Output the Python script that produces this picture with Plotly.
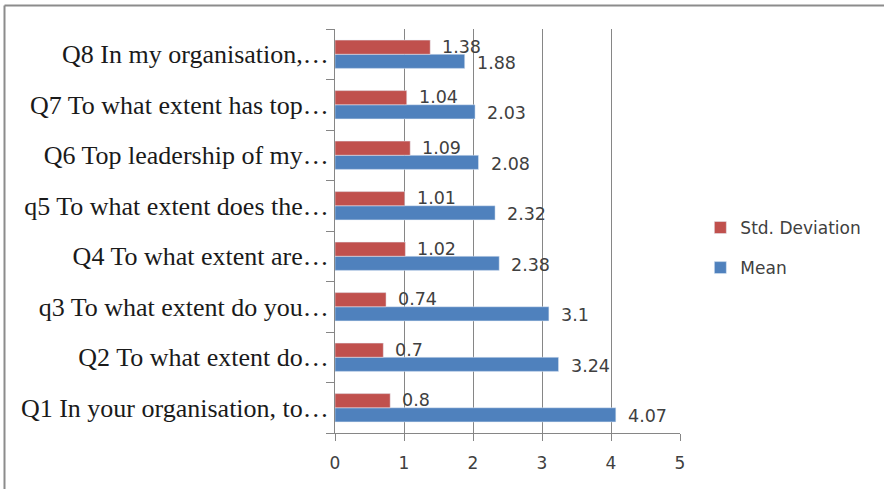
import plotly.graph_objects as go

categories = [
    "Q1 In your organisation, to…",
    "Q2 To what extent do…",
    "q3 To what extent do you…",
    "Q4 To what extent are…",
    "q5 To what extent does the…",
    "Q6 Top leadership of my…",
    "Q7 To what extent has top…",
    "Q8 In my organisation,…",
]
mean_vals = [4.07, 3.24, 3.1, 2.38, 2.32, 2.08, 2.03, 1.88]
std_vals = [0.8, 0.7, 0.74, 1.02, 1.01, 1.09, 1.04, 1.38]
x_ticks = [0, 1, 2, 3, 4, 5]

MEAN_COLOR = "#4F81BD"
STD_COLOR = "#C0504D"
GRID = "#868686"
SANS = "DejaVu Sans"
SERIF = "Liberation Serif"

idx = list(range(len(categories)))
BW = 0.28

fig = go.Figure()
fig.add_trace(go.Bar(
    name="Mean", y=idx, x=mean_vals, orientation="h",
    marker_color=MEAN_COLOR, width=BW, offset=-BW,
    legendgroup="m", legendrank=2,
))
fig.add_trace(go.Bar(
    name="Std. Deviation", y=idx, x=std_vals, orientation="h",
    marker_color=STD_COLOR, width=BW, offset=0,
    legendgroup="s", legendrank=1,
))

annotations = []
for i, (m, s) in enumerate(zip(mean_vals, std_vals)):
    annotations.append(dict(x=m, y=i - BW / 2 - 0.03, text=f"{m:g}", showarrow=False,
                            xanchor="left", xshift=10, font=dict(family=SANS, size=17.5, color="#404040")))
    annotations.append(dict(x=s, y=i + BW / 2 + 0.01, text=f"{s:g}", showarrow=False,
                            xanchor="left", xshift=10, font=dict(family=SANS, size=17.5, color="#404040")))

fig.update_layout(
    width=884, height=489,
    margin=dict(l=335, r=204, t=29, b=56),
    paper_bgcolor="white", plot_bgcolor="white",
    showlegend=True,
    legend=dict(
        traceorder="grouped", tracegroupgap=15,
        x=1.059, xanchor="left", y=0.458, yanchor="middle",
        font=dict(family=SANS, size=17, color="#404040"),
        bgcolor="rgba(0,0,0,0)",
    ),
    annotations=annotations,
    xaxis=dict(
        range=[0, 5], tickvals=x_ticks, ticks="outside", ticklen=7, tickcolor=GRID,
        showgrid=True, gridcolor=GRID, gridwidth=1, zeroline=False,
        showline=True, linecolor=GRID, linewidth=1,
        tickfont=dict(family=SANS, size=17, color="#404040"),
        ticklabelstandoff=8, fixedrange=True,
    ),
    yaxis=dict(
        range=[-0.5, len(categories) - 0.5], tickmode="array", tickvals=idx, ticktext=categories,
        ticks="", showgrid=False, zeroline=False,
        showline=True, linecolor=GRID, linewidth=1,
        tickfont=dict(family=SERIF, size=26, color="#1a1a1a"),
        minor=dict(ticks="outside", ticklen=8, tickcolor=GRID, tick0=-0.5, dtick=1, showgrid=False),
        fixedrange=True,
    ),
    shapes=[
        dict(type="line", xref="paper", yref="paper", x0=(4.5 - 335) / 345, x1=(884 - 335) / 345,
             y0=(433 - 5.5) / 404, y1=(433 - 5.5) / 404, line=dict(color="#8c8c8c", width=2)),
        dict(type="line", xref="paper", yref="paper", x0=(4.5 - 335) / 345, x1=(4.5 - 335) / 345,
             y0=(433 - 5.5) / 404, y1=(433 - 489) / 404, line=dict(color="#8c8c8c", width=2)),
    ],
)

fig.write_html("out.html")
